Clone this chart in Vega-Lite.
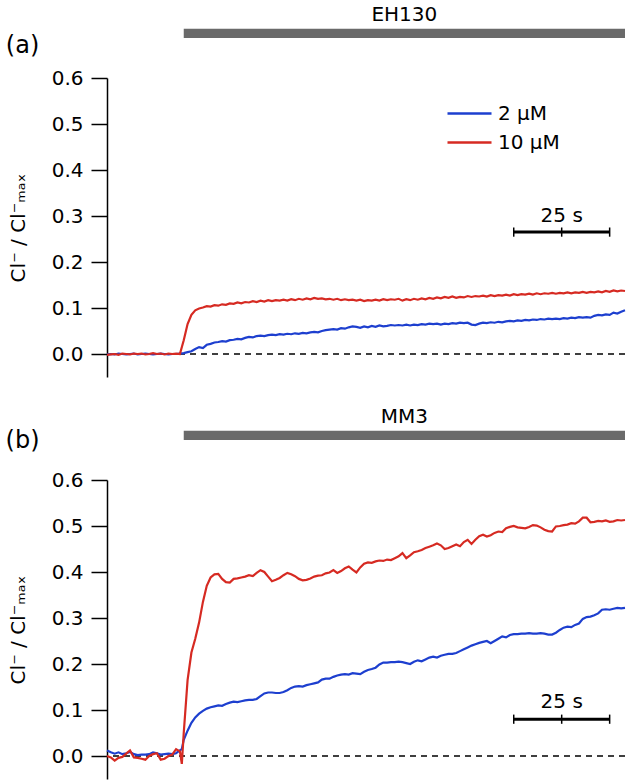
{
  "$schema": "https://vega.github.io/schema/vega-lite/v6.json",
  "background": "white",
  "padding": {"left": 5, "top": 4, "right": 4, "bottom": 3},
  "config": {
    "view": {"stroke": null},
    "font": "DejaVu Sans"
  },
  "datasets": {
    "a": [
      {"t":0,"lo":-0.001,"hi":-0.002},{"t":1,"lo":0.000,"hi":-0.001},{"t":2,"lo":-0.001,"hi":0.000},{"t":3,"lo":0.001,"hi":-0.002},
      {"t":4,"lo":0.000,"hi":0.001},{"t":5,"lo":-0.001,"hi":0.000},{"t":6,"lo":0.000,"hi":-0.001},{"t":7,"lo":0.001,"hi":0.001},
      {"t":8,"lo":-0.001,"hi":0.000},{"t":9,"lo":0.000,"hi":0.001},{"t":10,"lo":0.001,"hi":-0.001},{"t":11,"lo":0.000,"hi":0.000},
      {"t":12,"lo":-0.001,"hi":0.002},{"t":13,"lo":0.000,"hi":0.000},{"t":14,"lo":0.001,"hi":0.001},{"t":15,"lo":0.000,"hi":-0.001},
      {"t":16,"lo":-0.001,"hi":0.001},{"t":17,"lo":0.000,"hi":0.000},{"t":18,"lo":0.000,"hi":0.001},{"t":19,"lo":0.001,"hi":0.000},
      {"t":20,"lo":0.002,"hi":0.030},{"t":21,"lo":0.004,"hi":0.065},{"t":22,"lo":0.006,"hi":0.085},{"t":23,"lo":0.011,"hi":0.095},
      {"t":24,"lo":0.015,"hi":0.099},{"t":25,"lo":0.013,"hi":0.101},{"t":26,"lo":0.020,"hi":0.104},{"t":27,"lo":0.022,"hi":0.103},
      {"t":28,"lo":0.025,"hi":0.106},{"t":29,"lo":0.026,"hi":0.105},{"t":30,"lo":0.028,"hi":0.108},{"t":31,"lo":0.027,"hi":0.107},
      {"t":32,"lo":0.030,"hi":0.110},{"t":33,"lo":0.031,"hi":0.109},{"t":34,"lo":0.033,"hi":0.112},{"t":35,"lo":0.032,"hi":0.110},
      {"t":36,"lo":0.035,"hi":0.113},{"t":37,"lo":0.037,"hi":0.112},{"t":38,"lo":0.036,"hi":0.115},{"t":39,"lo":0.039,"hi":0.113},
      {"t":40,"lo":0.040,"hi":0.116},{"t":41,"lo":0.039,"hi":0.114},{"t":42,"lo":0.041,"hi":0.117},{"t":43,"lo":0.042,"hi":0.115},
      {"t":44,"lo":0.041,"hi":0.117},{"t":45,"lo":0.043,"hi":0.116},{"t":46,"lo":0.042,"hi":0.118},{"t":47,"lo":0.044,"hi":0.116},
      {"t":48,"lo":0.043,"hi":0.119},{"t":49,"lo":0.045,"hi":0.117},{"t":50,"lo":0.044,"hi":0.120},{"t":51,"lo":0.046,"hi":0.118},
      {"t":52,"lo":0.045,"hi":0.121},{"t":53,"lo":0.047,"hi":0.119},{"t":54,"lo":0.048,"hi":0.122},{"t":55,"lo":0.047,"hi":0.120},
      {"t":56,"lo":0.050,"hi":0.121},{"t":57,"lo":0.052,"hi":0.119},{"t":58,"lo":0.053,"hi":0.120},{"t":59,"lo":0.054,"hi":0.118},
      {"t":60,"lo":0.053,"hi":0.120},{"t":61,"lo":0.056,"hi":0.117},{"t":62,"lo":0.055,"hi":0.119},{"t":63,"lo":0.058,"hi":0.117},
      {"t":64,"lo":0.060,"hi":0.118},{"t":65,"lo":0.059,"hi":0.116},{"t":66,"lo":0.057,"hi":0.118},{"t":67,"lo":0.060,"hi":0.115},
      {"t":68,"lo":0.058,"hi":0.117},{"t":69,"lo":0.061,"hi":0.116},{"t":70,"lo":0.059,"hi":0.118},{"t":71,"lo":0.062,"hi":0.116},
      {"t":72,"lo":0.060,"hi":0.119},{"t":73,"lo":0.061,"hi":0.117},{"t":74,"lo":0.063,"hi":0.119},{"t":75,"lo":0.062,"hi":0.118},
      {"t":76,"lo":0.063,"hi":0.120},{"t":77,"lo":0.062,"hi":0.116},{"t":78,"lo":0.064,"hi":0.119},{"t":79,"lo":0.062,"hi":0.117},
      {"t":80,"lo":0.064,"hi":0.120},{"t":81,"lo":0.063,"hi":0.118},{"t":82,"lo":0.065,"hi":0.121},{"t":83,"lo":0.064,"hi":0.119},
      {"t":84,"lo":0.066,"hi":0.122},{"t":85,"lo":0.065,"hi":0.120},{"t":86,"lo":0.066,"hi":0.123},{"t":87,"lo":0.064,"hi":0.121},
      {"t":88,"lo":0.066,"hi":0.124},{"t":89,"lo":0.065,"hi":0.122},{"t":90,"lo":0.067,"hi":0.125},{"t":91,"lo":0.066,"hi":0.122},
      {"t":92,"lo":0.068,"hi":0.124},{"t":93,"lo":0.067,"hi":0.123},{"t":94,"lo":0.068,"hi":0.126},{"t":95,"lo":0.064,"hi":0.124},
      {"t":96,"lo":0.063,"hi":0.126},{"t":97,"lo":0.066,"hi":0.125},{"t":98,"lo":0.068,"hi":0.127},{"t":99,"lo":0.067,"hi":0.125},
      {"t":100,"lo":0.069,"hi":0.128},{"t":101,"lo":0.068,"hi":0.126},{"t":102,"lo":0.070,"hi":0.128},{"t":103,"lo":0.069,"hi":0.127},
      {"t":104,"lo":0.071,"hi":0.129},{"t":105,"lo":0.072,"hi":0.127},{"t":106,"lo":0.071,"hi":0.130},{"t":107,"lo":0.073,"hi":0.128},
      {"t":108,"lo":0.072,"hi":0.130},{"t":109,"lo":0.074,"hi":0.129},{"t":110,"lo":0.073,"hi":0.131},{"t":111,"lo":0.075,"hi":0.129},
      {"t":112,"lo":0.074,"hi":0.132},{"t":113,"lo":0.076,"hi":0.130},{"t":114,"lo":0.075,"hi":0.132},{"t":115,"lo":0.077,"hi":0.131},
      {"t":116,"lo":0.076,"hi":0.133},{"t":117,"lo":0.077,"hi":0.131},{"t":118,"lo":0.076,"hi":0.133},{"t":119,"lo":0.078,"hi":0.132},
      {"t":120,"lo":0.077,"hi":0.134},{"t":121,"lo":0.079,"hi":0.132},{"t":122,"lo":0.078,"hi":0.134},{"t":123,"lo":0.080,"hi":0.133},
      {"t":124,"lo":0.079,"hi":0.135},{"t":125,"lo":0.080,"hi":0.133},{"t":126,"lo":0.079,"hi":0.135},{"t":127,"lo":0.083,"hi":0.134},
      {"t":128,"lo":0.085,"hi":0.136},{"t":129,"lo":0.084,"hi":0.134},{"t":130,"lo":0.086,"hi":0.137},{"t":131,"lo":0.085,"hi":0.135},
      {"t":132,"lo":0.090,"hi":0.138},{"t":133,"lo":0.088,"hi":0.136},{"t":134,"lo":0.092,"hi":0.138},{"t":135,"lo":0.095,"hi":0.137}
    ],
    "b": [
      {"t":0,"lo":0.012,"hi":0.000},{"t":1,"lo":0.008,"hi":-0.003},{"t":2,"lo":0.005,"hi":-0.010},{"t":3,"lo":0.008,"hi":-0.004},
      {"t":4,"lo":0.004,"hi":-0.002},{"t":5,"lo":0.006,"hi":0.005},{"t":6,"lo":0.009,"hi":0.012},{"t":7,"lo":0.004,"hi":-0.003},
      {"t":8,"lo":0.002,"hi":-0.004},{"t":9,"lo":0.003,"hi":-0.006},{"t":10,"lo":0.003,"hi":-0.008},{"t":11,"lo":0.004,"hi":0.000},
      {"t":12,"lo":0.008,"hi":0.004},{"t":13,"lo":0.006,"hi":0.006},{"t":14,"lo":0.003,"hi":-0.008},{"t":15,"lo":0.004,"hi":-0.006},
      {"t":16,"lo":0.005,"hi":0.000},{"t":17,"lo":0.004,"hi":0.003},{"t":18,"lo":0.006,"hi":0.015},{"t":19,"lo":0.012,"hi":0.010},
      {"t":19.5,"lo":0.015,"hi":-0.017},
      {"t":20,"lo":0.035,"hi":0.050},{"t":21,"lo":0.055,"hi":0.165},{"t":22,"lo":0.072,"hi":0.225},{"t":23,"lo":0.084,"hi":0.255},
      {"t":24,"lo":0.092,"hi":0.290},{"t":25,"lo":0.098,"hi":0.335},{"t":26,"lo":0.103,"hi":0.370},{"t":27,"lo":0.106,"hi":0.388},
      {"t":28,"lo":0.108,"hi":0.395},{"t":29,"lo":0.110,"hi":0.396},{"t":30,"lo":0.109,"hi":0.385},{"t":31,"lo":0.113,"hi":0.378},
      {"t":32,"lo":0.116,"hi":0.377},{"t":33,"lo":0.118,"hi":0.385},{"t":34,"lo":0.117,"hi":0.386},{"t":35,"lo":0.119,"hi":0.388},
      {"t":36,"lo":0.121,"hi":0.390},{"t":37,"lo":0.122,"hi":0.393},{"t":38,"lo":0.122,"hi":0.391},{"t":39,"lo":0.124,"hi":0.398},
      {"t":40,"lo":0.130,"hi":0.404},{"t":41,"lo":0.136,"hi":0.400},{"t":42,"lo":0.138,"hi":0.390},{"t":43,"lo":0.138,"hi":0.380},
      {"t":44,"lo":0.137,"hi":0.383},{"t":45,"lo":0.137,"hi":0.387},{"t":46,"lo":0.139,"hi":0.393},{"t":47,"lo":0.143,"hi":0.398},
      {"t":48,"lo":0.148,"hi":0.395},{"t":49,"lo":0.151,"hi":0.391},{"t":50,"lo":0.152,"hi":0.385},{"t":51,"lo":0.151,"hi":0.382},
      {"t":52,"lo":0.154,"hi":0.383},{"t":53,"lo":0.156,"hi":0.386},{"t":54,"lo":0.158,"hi":0.390},{"t":55,"lo":0.160,"hi":0.392},
      {"t":56,"lo":0.166,"hi":0.393},{"t":57,"lo":0.168,"hi":0.397},{"t":58,"lo":0.168,"hi":0.399},{"t":59,"lo":0.172,"hi":0.404},
      {"t":60,"lo":0.175,"hi":0.398},{"t":61,"lo":0.177,"hi":0.402},{"t":62,"lo":0.178,"hi":0.408},{"t":63,"lo":0.177,"hi":0.412},
      {"t":64,"lo":0.180,"hi":0.405},{"t":65,"lo":0.179,"hi":0.399},{"t":66,"lo":0.178,"hi":0.410},{"t":67,"lo":0.183,"hi":0.418},
      {"t":68,"lo":0.187,"hi":0.421},{"t":69,"lo":0.189,"hi":0.420},{"t":70,"lo":0.192,"hi":0.423},{"t":71,"lo":0.199,"hi":0.425},
      {"t":72,"lo":0.203,"hi":0.424},{"t":73,"lo":0.203,"hi":0.427},{"t":74,"lo":0.204,"hi":0.426},{"t":75,"lo":0.204,"hi":0.430},
      {"t":76,"lo":0.205,"hi":0.434},{"t":77,"lo":0.204,"hi":0.441},{"t":78,"lo":0.202,"hi":0.430},{"t":79,"lo":0.200,"hi":0.436},
      {"t":80,"lo":0.205,"hi":0.443},{"t":81,"lo":0.208,"hi":0.445},{"t":82,"lo":0.206,"hi":0.448},{"t":83,"lo":0.210,"hi":0.452},
      {"t":84,"lo":0.214,"hi":0.455},{"t":85,"lo":0.216,"hi":0.458},{"t":86,"lo":0.214,"hi":0.462},{"t":87,"lo":0.218,"hi":0.458},
      {"t":88,"lo":0.220,"hi":0.450},{"t":89,"lo":0.222,"hi":0.452},{"t":90,"lo":0.222,"hi":0.456},{"t":91,"lo":0.224,"hi":0.460},
      {"t":92,"lo":0.228,"hi":0.456},{"t":93,"lo":0.232,"hi":0.465},{"t":94,"lo":0.236,"hi":0.470},{"t":95,"lo":0.240,"hi":0.461},
      {"t":96,"lo":0.243,"hi":0.470},{"t":97,"lo":0.246,"hi":0.478},{"t":98,"lo":0.248,"hi":0.481},{"t":99,"lo":0.250,"hi":0.477},
      {"t":100,"lo":0.245,"hi":0.480},{"t":101,"lo":0.250,"hi":0.485},{"t":102,"lo":0.255,"hi":0.488},{"t":103,"lo":0.260,"hi":0.487},
      {"t":104,"lo":0.258,"hi":0.495},{"t":105,"lo":0.263,"hi":0.498},{"t":106,"lo":0.265,"hi":0.500},{"t":107,"lo":0.265,"hi":0.497},
      {"t":108,"lo":0.266,"hi":0.496},{"t":109,"lo":0.266,"hi":0.495},{"t":110,"lo":0.267,"hi":0.498},{"t":111,"lo":0.266,"hi":0.502},
      {"t":112,"lo":0.266,"hi":0.501},{"t":113,"lo":0.267,"hi":0.497},{"t":114,"lo":0.266,"hi":0.492},{"t":115,"lo":0.264,"hi":0.489},
      {"t":116,"lo":0.264,"hi":0.488},{"t":117,"lo":0.268,"hi":0.499},{"t":118,"lo":0.274,"hi":0.500},{"t":119,"lo":0.279,"hi":0.502},
      {"t":120,"lo":0.281,"hi":0.503},{"t":121,"lo":0.280,"hi":0.506},{"t":122,"lo":0.285,"hi":0.505},{"t":123,"lo":0.288,"hi":0.510},
      {"t":124,"lo":0.298,"hi":0.518},{"t":125,"lo":0.302,"hi":0.518},{"t":126,"lo":0.303,"hi":0.508},{"t":127,"lo":0.306,"hi":0.509},
      {"t":128,"lo":0.310,"hi":0.511},{"t":129,"lo":0.318,"hi":0.510},{"t":130,"lo":0.319,"hi":0.512},{"t":131,"lo":0.318,"hi":0.509},
      {"t":132,"lo":0.320,"hi":0.510},{"t":133,"lo":0.322,"hi":0.513},{"t":134,"lo":0.321,"hi":0.512},{"t":135,"lo":0.322,"hi":0.513}
    ],
    "stimA": [{"start": 20, "end": 135, "drug": "EH130", "panel": "(a)"}],
    "stimB": [{"start": 20, "end": 135, "drug": "MM3", "panel": "(b)"}],
    "scalebar": [{"s0": 106, "s1": 131, "label": "25 s"}],
    "scaleticks": [{"s": 106}, {"s": 118.5}, {"s": 131}]
  },
  "spacing": 103,
  "bounds": "flush",
  "resolve": {"scale": {"color": "independent"}, "legend": {"color": "independent"}},
  "vconcat": [
    {
      "width": 518,
      "height": 299,
      "layer": [
        {
          "data": {"name": "stimA"},
          "mark": {"type": "rule", "color": "black", "strokeWidth": 1.3, "strokeDash": [6, 5]},
          "encoding": {"y": {"datum": 0}}
        },
        {
          "data": {"name": "a"},
          "transform": [{"fold": ["lo", "hi"], "as": ["c", "v"]}],
          "mark": {"type": "line", "strokeWidth": 2.2},
          "encoding": {
            "x": {"field": "t", "type": "quantitative", "scale": {"domain": [0, 135], "nice": false, "zero": false}, "axis": null},
            "y": {"field": "v", "type": "quantitative", "scale": {"domain": [-0.05, 0.6], "nice": false, "zero": false},
                  "axis": {"title": "Cl⁻ / Cl⁻ₘₐₓ", "values": [0, 0.1, 0.2, 0.3, 0.4, 0.5, 0.6], "format": ".1f",
                           "titleFont": "DejaVu Sans", "titleFontSize": 20, "titleFontWeight": "normal", "titleColor": "black", "titlePadding": 23,
                           "labelFont": "DejaVu Sans", "labelFontSize": 20, "labelColor": "black", "labelPadding": 8,
                           "tickSize": 16, "tickColor": "black", "tickWidth": 1.5, "domainColor": "black", "domainWidth": 1.5, "grid": false}},
            "color": {"field": "c", "type": "nominal", "scale": {"domain": ["lo", "hi"], "range": ["#1d3fcf", "#d62a22"]},
                      "legend": {"title": null, "orient": "none", "legendX": 350, "legendY": 23, "symbolType": "M-2,0H2",
                                 "symbolSize": 484, "symbolStrokeWidth": 2.6, "labelFontSize": 20, "labelFont": "DejaVu Sans",
                                 "labelColor": "black", "labelOffset": 16, "rowPadding": 6, "padding": 0,
                                 "labelExpr": "datum.value == 'lo' ? '2 µM' : '10 µM'"}}
          }
        },
        {
          "data": {"name": "stimA"},
          "mark": {"type": "rect", "color": "#6a6a6a"},
          "encoding": {"x": {"field": "start", "type": "quantitative"}, "x2": {"field": "end"}, "y": {"datum": 0.687}, "y2": {"datum": 0.707}}
        },
        {
          "data": {"name": "stimA"},
          "mark": {"type": "text", "fontSize": 20, "font": "DejaVu Sans", "color": "black"},
          "encoding": {"x": {"datum": 77.5}, "y": {"datum": 0.737}, "text": {"field": "drug"}}
        },
        {
          "data": {"name": "stimA"},
          "mark": {"type": "text", "fontSize": 24, "font": "DejaVu Sans", "color": "black"},
          "encoding": {"x": {"datum": -22}, "y": {"datum": 0.67}, "text": {"field": "panel"}}
        },
        {
          "data": {"name": "scalebar"},
          "mark": {"type": "rule", "color": "black", "strokeWidth": 3},
          "encoding": {"x": {"field": "s0", "type": "quantitative"}, "x2": {"field": "s1"}, "y": {"datum": 0.265}}
        },
        {
          "data": {"name": "scaleticks"},
          "mark": {"type": "rule", "color": "black", "strokeWidth": 1.5},
          "encoding": {"x": {"field": "s", "type": "quantitative"}, "y": {"datum": 0.255}, "y2": {"datum": 0.275}}
        },
        {
          "data": {"name": "scalebar"},
          "mark": {"type": "text", "fontSize": 20, "font": "DejaVu Sans", "color": "black"},
          "encoding": {"x": {"datum": 118.5}, "y": {"datum": 0.3}, "text": {"field": "label"}}
        }
      ]
    },
    {
      "width": 518,
      "height": 299,
      "layer": [
        {
          "data": {"name": "stimB"},
          "mark": {"type": "rule", "color": "black", "strokeWidth": 1.3, "strokeDash": [6, 5]},
          "encoding": {"y": {"datum": 0}}
        },
        {
          "data": {"name": "b"},
          "transform": [{"fold": ["lo", "hi"], "as": ["c", "v"]}],
          "mark": {"type": "line", "strokeWidth": 2.2},
          "encoding": {
            "x": {"field": "t", "type": "quantitative", "scale": {"domain": [0, 135], "nice": false, "zero": false}, "axis": null},
            "y": {"field": "v", "type": "quantitative", "scale": {"domain": [-0.05, 0.6], "nice": false, "zero": false},
                  "axis": {"title": "Cl⁻ / Cl⁻ₘₐₓ", "values": [0, 0.1, 0.2, 0.3, 0.4, 0.5, 0.6], "format": ".1f",
                           "titleFont": "DejaVu Sans", "titleFontSize": 20, "titleFontWeight": "normal", "titleColor": "black", "titlePadding": 23,
                           "labelFont": "DejaVu Sans", "labelFontSize": 20, "labelColor": "black", "labelPadding": 8,
                           "tickSize": 16, "tickColor": "black", "tickWidth": 1.5, "domainColor": "black", "domainWidth": 1.5, "grid": false}},
            "color": {"field": "c", "type": "nominal", "scale": {"domain": ["lo", "hi"], "range": ["#1d3fcf", "#d62a22"]}, "legend": null}
          }
        },
        {
          "data": {"name": "stimB"},
          "mark": {"type": "rect", "color": "#6a6a6a"},
          "encoding": {"x": {"field": "start", "type": "quantitative"}, "x2": {"field": "end"}, "y": {"datum": 0.687}, "y2": {"datum": 0.707}}
        },
        {
          "data": {"name": "stimB"},
          "mark": {"type": "text", "fontSize": 20, "font": "DejaVu Sans", "color": "black"},
          "encoding": {"x": {"datum": 77.5}, "y": {"datum": 0.737}, "text": {"field": "drug"}}
        },
        {
          "data": {"name": "stimB"},
          "mark": {"type": "text", "fontSize": 24, "font": "DejaVu Sans", "color": "black"},
          "encoding": {"x": {"datum": -22}, "y": {"datum": 0.685}, "text": {"field": "panel"}}
        },
        {
          "data": {"name": "scalebar"},
          "mark": {"type": "rule", "color": "black", "strokeWidth": 3},
          "encoding": {"x": {"field": "s0", "type": "quantitative"}, "x2": {"field": "s1"}, "y": {"datum": 0.08}}
        },
        {
          "data": {"name": "scaleticks"},
          "mark": {"type": "rule", "color": "black", "strokeWidth": 1.5},
          "encoding": {"x": {"field": "s", "type": "quantitative"}, "y": {"datum": 0.07}, "y2": {"datum": 0.09}}
        },
        {
          "data": {"name": "scalebar"},
          "mark": {"type": "text", "fontSize": 20, "font": "DejaVu Sans", "color": "black"},
          "encoding": {"x": {"datum": 118.5}, "y": {"datum": 0.118}, "text": {"field": "label"}}
        }
      ]
    }
  ]
}
